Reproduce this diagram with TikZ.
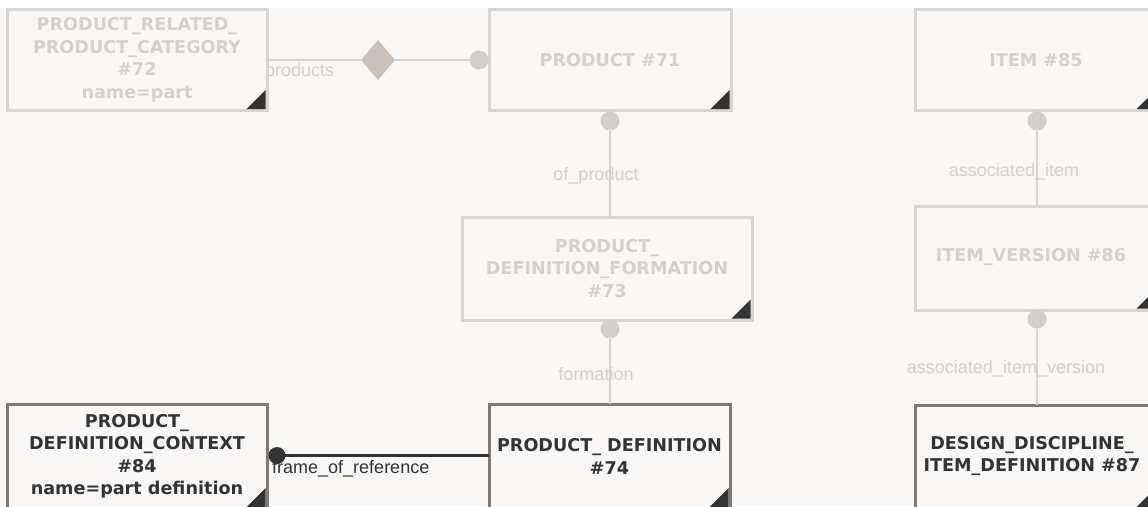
\documentclass[tikz,border=0pt]{standalone}
\usepackage{fontspec}
\usetikzlibrary{shapes.geometric,calc}
\newfontfamily\titlefont{DejaVu Sans}
\newfontfamily\lblfont{Liberation Sans}
\definecolor{bgc}{HTML}{F8F7F5}
\definecolor{fadeborder}{HTML}{D9D4CF}
\definecolor{fadetext}{HTML}{D5D0CB}
\definecolor{fadeline}{HTML}{D6D1CC}
\definecolor{fadedot}{HTML}{D3CEC9}
\definecolor{diacol}{HTML}{C9C1BA}
\definecolor{darkborder}{HTML}{7E7974}
\definecolor{darkc}{HTML}{333333}
\tikzset{
  ebox/.style={rectangle, line width=3pt, fill=bgc, outer sep=0pt, inner sep=0pt,
    align=center, font=\titlefont\bfseries\fontsize{17.6}{22.5}\selectfont},
  fadebox/.style={ebox, draw=fadeborder, text=fadetext},
  darkbox/.style={ebox, draw=darkborder, text=darkc},
  fadeconn/.style={draw=fadeline, line width=2pt},
  darkconn/.style={draw=darkc, line width=2.2pt},
  fadedotnode/.style={circle, fill=fadedot, minimum size=19pt, inner sep=0pt, outer sep=0pt},
  darkdotnode/.style={circle, fill=darkc, minimum size=17pt, inner sep=0pt, outer sep=0pt},
  fadelbl/.style={font=\lblfont\fontsize{18}{20}\selectfont, text=fadetext, inner sep=0pt},
  darklbl/.style={font=\lblfont\fontsize{18}{20}\selectfont, text=darkc, inner sep=0pt},
  cornertri/.style={fill=darkc},
}
\begin{document}
\begin{tikzpicture}[x=1pt,y=-1pt]
\useasboundingbox (0,0) rectangle (1148,506);
\clip (0,0) rectangle (1148,506);
\fill[white] (0,0) rectangle (1148,8);
\fill[bgc] (0,8) rectangle (1148,506);

% labels drawn first (box edges overlap them slightly)
\node[fadelbl, anchor=west] (lprod) at (265,72) {products};

% boxes
\node[fadebox, minimum width=260pt, minimum height=101.5pt] (p72) at (137,59.75)
  {PRODUCT\_RELATED\_\\PRODUCT\_CATEGORY\\\#72\\name=part};
\node[fadebox, minimum width=242pt, minimum height=101.5pt] (p71) at (610,59.75)
  {PRODUCT \#71};
\node[fadebox, minimum width=290pt, minimum height=103pt] (p73) at (607,268.5)
  {PRODUCT\_\\DEFINITION\_FORMATION\\\#73};
\node[darkbox, minimum width=241pt, minimum height=104.5pt] (p74) at (609.5,456.25)
  {PRODUCT\_ DEFINITION\\\#74};
\node[darkbox, minimum width=260pt, minimum height=104.5pt] (p84) at (137,456.25)
  {PRODUCT\_\\DEFINITION\_CONTEXT\\\#84\\name=part definition};
\node[fadebox, minimum width=242pt, minimum height=101.5pt] (p85) at (1036,59.75) {};
\node[fadebox, minimum width=242pt, minimum height=104pt] (p86) at (1036,258) {};
\node[darkbox, minimum width=242pt, minimum height=103.5pt] (p87) at (1036,456.75) {};
\node[text=fadetext, font=\titlefont\bfseries\fontsize{17.6}{22.5}\selectfont] (t85) at (1036,60) {ITEM \#85};
\node[text=fadetext, font=\titlefont\bfseries\fontsize{17.6}{22.5}\selectfont] (t86) at (1031,257) {ITEM\_VERSION \#86};
\node[text=darkc, align=center, font=\titlefont\bfseries\fontsize{17.6}{22.5}\selectfont] (t87) at (1032,456) {DESIGN\_DISCIPLINE\_\\ITEM\_DEFINITION \#87};

% corner triangles
\foreach \b in {p72,p71,p73,p74,p84,p85,p86,p87}{
  \fill[cornertri] ([shift={(-1.5,-1.5)}]\b.south east) -- ++(-19,0) -- ++(19,-19) -- cycle;
}

% connector products: #72 -- diamond -- #71
\node[diamond, fill=diacol, minimum width=34pt, minimum height=40pt, inner sep=0pt, outer sep=0pt] (dia) at (378,60) {};
\node[fadedotnode] (c71w) at (479,60) {};
\draw[fadeconn] (p72.east |- dia) -- (dia.west);
\draw[fadeconn] (dia.east) -- (c71w.west);

% of_product
\node[fadedotnode] (c71s) at (610,121) {};
\draw[fadeconn] (c71s.south) -- (c71s.south |- p73.north);
\node[fadelbl] (lofp) at (596,176) {of\_product};

% formation
\node[fadedotnode] (c73s) at (610,329) {};
\draw[fadeconn] (c73s.south) -- (c73s.south |- p74.north);
\node[fadelbl] (lform) at (596,374) {formation};

% associated_item
\node[fadedotnode] (c85s) at (1037,121) {};
\draw[fadeconn] (c85s.south) -- (c85s.south |- p86.north);
\node[fadelbl] (lai) at (1014,172) {associated\_item};

% associated_item_version
\node[fadedotnode] (c86s) at (1037,319) {};
\draw[fadeconn] (c86s.south) -- (c86s.south |- p87.north);
\node[fadelbl] (laiv) at (1006,369) {associated\_item\_version};

% frame_of_reference
\node[darkdotnode] (d84) at (277,455.5) {};
\draw[darkconn] (d84.center) -- (p74.west |- d84.center);
\node[darklbl, anchor=west] (lfor) at (272,469) {frame\_of\_reference};
\end{tikzpicture}
\end{document}
